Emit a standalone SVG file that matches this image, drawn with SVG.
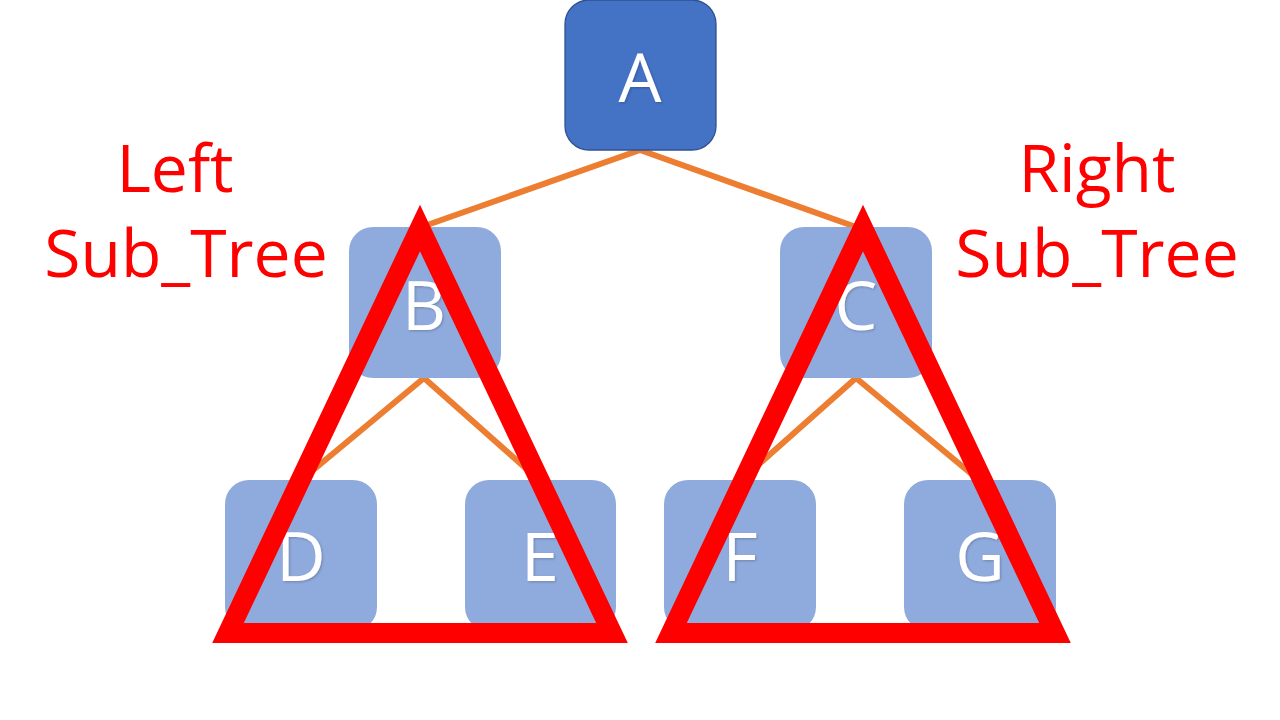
<svg xmlns="http://www.w3.org/2000/svg" width="1280" height="720" viewBox="0 0 1280 720">
<defs>
<filter id="sh" x="-20%" y="-20%" width="140%" height="140%">
<feDropShadow dx="1.2" dy="1.2" stdDeviation="1" flood-color="#000" flood-opacity="0.2"/>
</filter>
<style>
.root{fill:#4472C4;stroke:#2F528F;stroke-width:1.3}
.child{fill:#8FAADC}
.lbl{font-family:"Open Sans","Noto Sans",sans-serif;font-size:68px;fill:#fff;text-anchor:middle;filter:url(#sh)}
.edge{stroke:#ED7D31;stroke-width:6;fill:none;stroke-linecap:round}
.tri{fill:none;stroke:#FF0000;stroke-width:20;stroke-linejoin:miter;stroke-miterlimit:10}
.cap{font-family:"Open Sans","Noto Sans",sans-serif;font-size:66px;fill:#FF0000;text-anchor:middle}
</style>
</defs>
<rect width="1280" height="720" fill="#fff"/>
<g id="connectors">
<path class="edge" d="M640,150 L430,224 M640,150 L856,227"/>
<path class="edge" d="M424,378 L300,481 M424,378 L540,481"/>
<path class="edge" d="M856,378 L740,481 M856,378 L980,481"/>
</g>
<g id="node-A"><rect class="root" x="565" y="0" width="151" height="150" rx="24"/><text class="lbl" x="640" y="102">A</text></g>
<g id="node-B"><rect class="child" x="349" y="227" width="152" height="151" rx="24"/><text class="lbl" x="424" y="330">B</text></g>
<g id="node-C"><rect class="child" x="780" y="227" width="152" height="151" rx="24"/><text class="lbl" x="856" y="330">C</text></g>
<g id="node-D"><rect class="child" x="225" y="480" width="152" height="151" rx="24"/><text class="lbl" x="301" y="581">D</text></g>
<g id="node-E"><rect class="child" x="465" y="480" width="151" height="151" rx="24"/><text class="lbl" x="540" y="581">E</text></g>
<g id="node-F"><rect class="child" x="664" y="480" width="152" height="151" rx="24"/><text class="lbl" x="740" y="581">F</text></g>
<g id="node-G"><rect class="child" x="904" y="480" width="152" height="151" rx="24"/><text class="lbl" x="980" y="581">G</text></g>
<g id="left-subtree">
<polygon class="tri" points="420,228 228,633 612,633"/>
<text class="cap" x="175" y="192">Left</text>
<text class="cap" x="186" y="277">Sub_Tree</text>
</g>
<g id="right-subtree">
<polygon class="tri" points="863,228 671,633 1055,633"/>
<text class="cap" x="1097" y="192">Right</text>
<text class="cap" x="1097" y="277">Sub_Tree</text>
</g>
</svg>
